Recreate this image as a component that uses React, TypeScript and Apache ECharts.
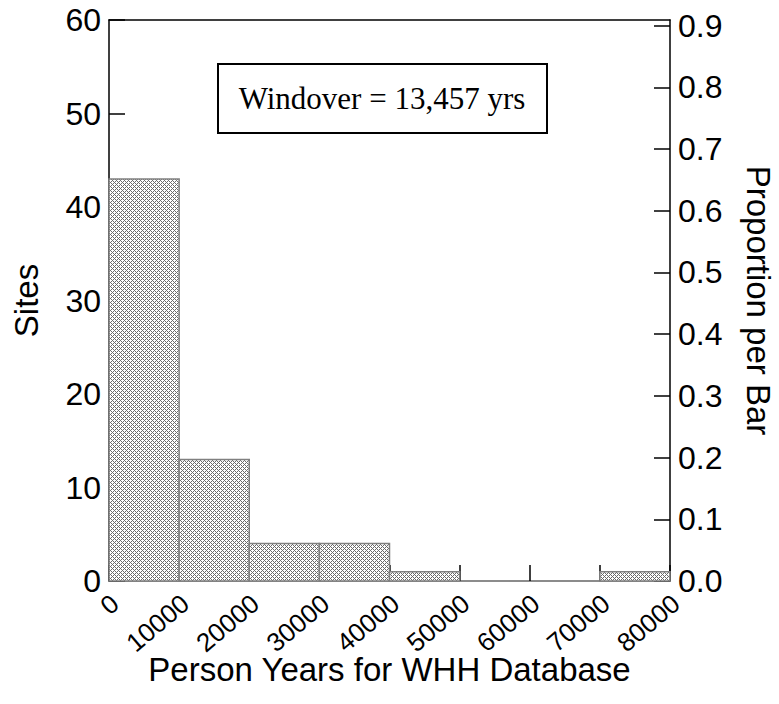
import React, { useEffect, useRef } from "react";
import * as echarts from "echarts";

const binStarts = [0, 10000, 20000, 30000, 40000, 50000, 60000, 70000];
const binEnds = [10000, 20000, 30000, 40000, 50000, 60000, 70000, 80000];
const siteCounts = [43, 13, 4, 4, 1, 0, 0, 1];
const xTickValues = [0, 10000, 20000, 30000, 40000, 50000, 60000, 70000, 80000];
const annotationText = "Windover = 13,457 yrs";

const totalSites = siteCounts.reduce((a, b) => a + b, 0);
const SANS = "'Liberation Sans', Arial, Helvetica, sans-serif";
const SERIF = "'Liberation Serif', 'Times New Roman', serif";

function makePattern() {
  const c = document.createElement("canvas");
  c.width = 4;
  c.height = 4;
  const ctx = c.getContext("2d")!;
  ctx.fillStyle = "#ffffff";
  ctx.fillRect(0, 0, 4, 4);
  ctx.fillStyle = "#6a6a6a";
  for (let y = 0; y < 4; y++) {
    for (let x = 0; x < 4; x++) {
      if ((x + y) % 4 === 0 || (x - y + 4) % 4 === 0) ctx.fillRect(x, y, 1, 1);
    }
  }
  return { image: c, repeat: "repeat", imageWidth: 4, imageHeight: 4 } as any;
}

export default function App() {
  const ref = useRef<HTMLDivElement>(null);
  useEffect(() => {
    if (!ref.current) return;
    const chart = echarts.init(ref.current, null, { renderer: "svg" });
    const pattern = makePattern();
    const data = binStarts
      .map((s, i) => [s, binEnds[i], siteCounts[i]])
      .filter((d) => d[2] > 0);
    const maxSites = 60;
    chart.setOption({
      animation: false,
      grid: {
        left: 109,
        right: 109,
        top: 20,
        bottom: 123,
        containLabel: false,
        outerBoundsMode: "none",
      },
      xAxis: [
        {
          type: "value",
          min: xTickValues[0],
          max: xTickValues[xTickValues.length - 1],
          interval: 10000,
          splitLine: { show: false },
          axisLine: { onZero: false, lineStyle: { color: "#666", width: 1.5 } },
          axisTick: { inside: true, length: 16, lineStyle: { color: "#000", width: 1.5 } },
          axisLabel: {
            rotate: 40,
            margin: 24,
            fontSize: 26,
            color: "#000",
            fontFamily: SANS,
            padding: [0, -8, 0, 0],
            formatter: (v: number) => String(v),
          },
          name: "Person Years for WHH Database",
          nameLocation: "middle",
          nameGap: 72,
          nameMoveOverlap: false,
          nameTextStyle: { fontSize: 33, color: "#000", fontFamily: SANS },
        },
        {
          type: "value",
          position: "top",
          min: 0,
          max: 80000,
          splitLine: { show: false },
          axisLine: { onZero: false, lineStyle: { color: "#000", width: 1.5 } },
          axisTick: { show: false },
          axisLabel: { show: false },
        },
      ],
      yAxis: [
        {
          type: "value",
          position: "left",
          min: 0,
          max: maxSites,
          interval: 10,
          splitLine: { show: false },
          axisLine: { show: true, onZero: false, lineStyle: { color: "#000", width: 1.5 } },
          axisTick: { show: true, inside: true, length: 16, lineStyle: { color: "#000", width: 1.5 } },
          axisLabel: { fontSize: 32, color: "#000", fontFamily: SANS, margin: 8 },
          name: "Sites",
          nameLocation: "middle",
          nameGap: 66,
          nameMoveOverlap: false,
          nameTextStyle: { fontSize: 33, color: "#000", fontFamily: SANS },
        },
        {
          type: "value",
          position: "right",
          min: 0,
          max: maxSites / totalSites,
          interval: 0.1,
          splitLine: { show: false },
          axisLine: { show: true, onZero: false, lineStyle: { color: "#000", width: 1.5 } },
          axisTick: { show: true, inside: true, length: 16, lineStyle: { color: "#000", width: 1.5 } },
          axisLabel: {
            fontSize: 32,
            color: "#000",
            fontFamily: SANS,
            margin: 8,
            showMaxLabel: false,
            formatter: (v: number) => v.toFixed(1),
          },
          name: "Proportion per Bar",
          nameLocation: "middle",
          nameRotate: -90,
          nameGap: 72,
          nameMoveOverlap: false,
          nameTextStyle: { fontSize: 33, color: "#000", fontFamily: SANS },
        },
      ],
      series: [
        {
          type: "custom",
          xAxisIndex: 0,
          yAxisIndex: 0,
          encode: { x: [0, 1], y: 2 },
          data,
          renderItem: (params: any, api: any) => {
            const p0 = api.coord([api.value(0), 0]);
            const p1 = api.coord([api.value(1), api.value(2)]);
            return {
              type: "rect",
              shape: { x: p0[0], y: p1[1], width: p1[0] - p0[0], height: p0[1] - p1[1] },
              style: { fill: pattern, stroke: "#808080", lineWidth: 1.5 },
            };
          },
        },
      ],
      graphic: [
        {
          type: "rect",
          shape: { x: 218, y: 64, width: 329, height: 69 },
          style: { fill: "#fff", stroke: "#000", lineWidth: 2 },
          z: 10,
        },
        {
          type: "text",
          x: 382,
          y: 98,
          z: 11,
          style: {
            text: annotationText,
            fontSize: 31,
            fontFamily: SERIF,
            fill: "#000",
            align: "center",
            verticalAlign: "middle",
          },
        },
      ],
    });
    return () => chart.dispose();
  }, []);
  return <div ref={ref} style={{ width: 779, height: 704, position: "absolute", left: 0, top: 0 }} />;
}
